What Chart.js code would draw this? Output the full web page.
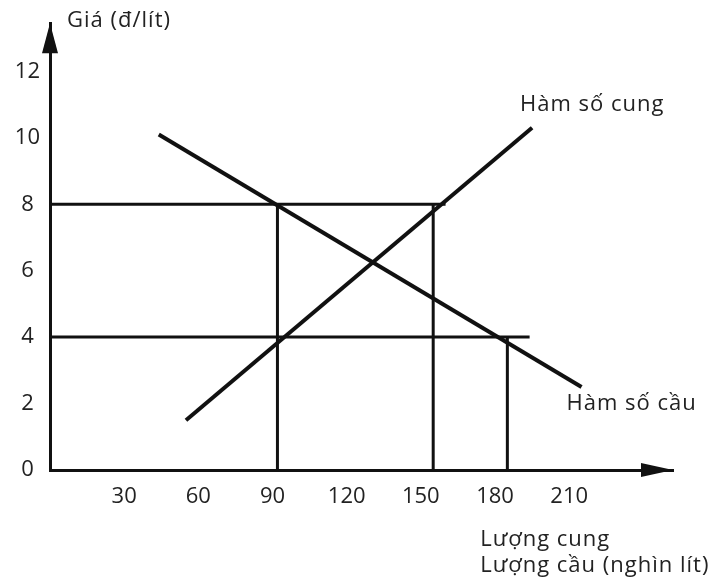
<!DOCTYPE html>
<html>
<head>
<meta charset="utf-8">
<script src="https://cdn.jsdelivr.net/npm/chart.js@4.4.1/dist/chart.umd.min.js"></script>
<style>
  body { margin: 0; background: #fff; }
  #wrap { width: 715px; height: 580px; }
</style>
</head>
<body>
<div id="wrap"><canvas id="chart" width="715" height="580"></canvas></div>
<script>
// tick labels
var xTicks = [30, 60, 90, 120, 150, 180, 210];
var yTicks = [0, 2, 4, 6, 8, 10, 12];

// demand and supply lines (quantity, price) at both ends
var demandQ = [44, 215];
var demandP = [10.1, 2.5];
var supplyQ = [55, 195];
var supplyP = [1.5, 10.3];

// horizontal price lines and where they stop
var priceLevels = [8, 4];
var priceLineEndQ = [160, 194];

// vertical quantity lines and how high they go
var qtyLevels = [92, 155, 185];
var qtyLineTopP = [8, 8, 4];

var xMax = 252, yMax = 13.45;
var ink = '#111';
var fontFam = '"Open Sans", sans-serif';

function pts(qs, ps) {
  return qs.map(function (q, i) { return { x: q, y: ps[i] }; });
}

var datasets = [];
priceLevels.forEach(function (p, i) {
  datasets.push({ data: [{ x: 0, y: p }, { x: priceLineEndQ[i], y: p }], borderWidth: 3 });
});
qtyLevels.forEach(function (q, i) {
  datasets.push({ data: [{ x: q, y: 0 }, { x: q, y: qtyLineTopP[i] }], borderWidth: 3 });
});
datasets.push({ label: 'demand', data: pts(demandQ, demandP), borderWidth: 4 });
datasets.push({ label: 'supply', data: pts(supplyQ, supplyP), borderWidth: 4 });
datasets.forEach(function (d) {
  d.borderColor = ink;
  d.pointRadius = 0;
  d.showLine = true;
  d.fill = false;
});

var labelsPlugin = {
  id: 'labels',
  afterDraw: function (chart) {
    var c = chart.ctx, a = chart.chartArea;
    var xs = chart.scales.x, ys = chart.scales.y;
    c.save();
    c.fillStyle = ink;
    // arrows
    c.beginPath();
    c.moveTo(a.left, a.top);
    c.lineTo(a.left - 8, a.top + 30);
    c.lineTo(a.left + 8, a.top + 30);
    c.closePath();
    c.fill();
    c.beginPath();
    c.moveTo(a.right, a.bottom);
    c.lineTo(a.right - 32, a.bottom - 7);
    c.lineTo(a.right - 32, a.bottom + 7);
    c.closePath();
    c.fill();

    c.font = '22px ' + fontFam;
    c.letterSpacing = '1px';
    c.fillStyle = '#222';
    c.textAlign = 'left';
    c.textBaseline = 'middle';
    c.fillText('Giá (đ/lít)', a.left + 17, a.top - 2);

    var sx = xs.getPixelForValue(supplyQ[1]), sy = ys.getPixelForValue(supplyP[1]);
    c.fillText('Hàm số cung', sx - 12, sy - 23);
    var dx = xs.getPixelForValue(demandQ[1]), dy = ys.getPixelForValue(demandP[1]);
    c.fillText('Hàm số cầu', dx - 15, dy + 17);

    var lx = xs.getPixelForValue(174);
    c.fillText('Lượng cung', lx, a.bottom + 70);
    c.fillText('Lượng cầu (nghìn lít)', lx, a.bottom + 96);
    c.restore();
  }
};

new Chart(document.getElementById('chart').getContext('2d'), {
  type: 'scatter',
  data: { datasets: datasets },
  options: {
    responsive: false,
    animation: false,
    layout: { padding: { top: 22, right: 42, left: 0, bottom: 0 } },
    plugins: { legend: { display: false }, tooltip: { enabled: false } },
    scales: {
      x: {
        type: 'linear', min: 0, max: xMax,
        afterFit: function (s) { s.height = 110; },
        afterBuildTicks: function (s) { s.ticks = xTicks.map(function (v) { return { value: v }; }); },
        grid: { drawOnChartArea: false, drawTicks: false },
        border: { display: true, color: ink, width: 3 },
        ticks: { padding: 14, color: '#222', font: { family: fontFam, size: 22 } }
      },
      y: {
        type: 'linear', min: 0, max: yMax,
        afterFit: function (s) { s.width = 50; },
        afterBuildTicks: function (s) { s.ticks = yTicks.map(function (v) { return { value: v }; }); },
        grid: { drawOnChartArea: false, drawTicks: false },
        border: { display: true, color: ink, width: 3 },
        ticks: { padding: 10, crossAlign: 'center', color: '#222', font: { family: fontFam, size: 22 } }
      }
    }
  },
  plugins: [labelsPlugin]
});
</script>
</body>
</html>
